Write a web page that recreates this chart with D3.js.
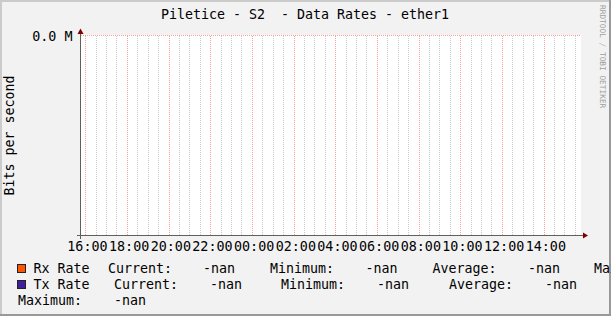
<!DOCTYPE html>
<html>
<head>
<meta charset="utf-8">
<script src="https://cdn.jsdelivr.net/npm/d3@7"></script>
<style>
    body { margin: 0; background: #f2f2f2; }
    svg { display: block; }
    text { font-family: "DejaVu Sans Mono", monospace; fill: #000; white-space: pre; }
</style>
</head>
<body>
<svg id="chart" width="611" height="316"></svg>
<script>
// chart values
let title = "Piletice - S2  - Data Rates - ether1";
let yTitle = "Bits per second";
let watermark = "RRDTOOL / TOBI OETIKER";
let timeStart = new Date(Date.UTC(2024, 0, 1, 15, 48));
let timeEnd = new Date(Date.UTC(2024, 0, 2, 15, 48));
let yDomain = [0, 1];
let yTickValues = [1];
let yTickLabels = ["0.0 M"];
let seriesNames = ["Rx Rate", "Tx Rate"];
let seriesColors = ["#ff5500", "#3f1fa0"];
let rxRate = [];   // no data: every point is nan
let txRate = [];
let statNames = ["Current:", "Minimum:", "Average:", "Maximum:"];
let rxStats = ["-nan", "-nan", "-nan", "-nan"];
let txStats = ["-nan", "-nan", "-nan", "-nan"];

// d3 v7 has no .attrs, add a small helper
d3.selection.prototype.attrs = function (obj) {
    for (let k in obj) this.attr(k, obj[k]);
    return this;
};

function make_scales(margin) {
    return {
        x: d3.scaleUtc()
            .domain([timeStart, timeEnd])
            .range([margin.left, margin.left + 500]),
        y: d3.scaleLinear()
            .domain(yDomain)
            .range([margin.top + 200, margin.top])
    };
}

function draw_frame(svg) {
    let w = 611, h = 316;
    svg.append("rect").attrs({ x: 0, y: 0, width: w, height: h, fill: "#f2f2f2" });
    // light shade top-left, dark shade bottom-right
    svg.append("path").attrs({ d: `M0,0H${w}V2H2V${h}H0Z`, fill: "#cbcbcb" });
    svg.append("path").attrs({ d: `M${w},0V${h}H0V${h - 2}H${w - 2}V0Z`, fill: "#999999" });
}

function draw_grid(svg, scales) {
    let x = scales.x, y = scales.y;
    let [top, bottom] = [y.range()[1], y.range()[0]];
    let majors = x.ticks(d3.utcHour.every(2));
    let minors = x.ticks(d3.utcMinute.every(30))
        .filter(t => t.getUTCMinutes() !== 0 || t.getUTCHours() % 2 !== 0);

    svg.append("rect").attrs({
        x: x.range()[0], y: top - 0.5, width: 500, height: bottom - top + 1, fill: "#fff"
    });

    svg.append("g").selectAll("line")
        .data(minors).enter()
        .append("line")
        .attrs({
            x1: d => Math.round(x(d)) + 0.5, x2: d => Math.round(x(d)) + 0.5,
            y1: top, y2: bottom,
            stroke: "#c8c8c8", "stroke-dasharray": "1,1", "shape-rendering": "crispEdges"
        });

    svg.append("g").selectAll("line")
        .data(majors).enter()
        .append("line")
        .attrs({
            x1: d => Math.round(x(d)) + 0.5, x2: d => Math.round(x(d)) + 0.5,
            y1: top, y2: bottom,
            stroke: "#f7a0a0", "stroke-dasharray": "1,1", "shape-rendering": "crispEdges"
        });

    svg.append("g").selectAll("line")
        .data(yTickValues).enter()
        .append("line")
        .attrs({
            x1: x.range()[0], x2: x.range()[1],
            y1: d => y(d), y2: d => y(d),
            stroke: "#f7a0a0", "stroke-dasharray": "1,1", "shape-rendering": "crispEdges"
        });

    // labels
    svg.append("g").selectAll("text")
        .data(majors).enter()
        .append("text")
        .attrs({ x: d => x(d) + 2.3, y: bottom + 15, "text-anchor": "middle" })
        .style("font-size", "13.4px")
        .text(d3.utcFormat("%H:%M"));

    svg.append("g").selectAll("text")
        .data(yTickValues).enter()
        .append("text")
        .attrs({ x: 72.5, y: d => y(d) + 5, "text-anchor": "end" })
        .style("font-size", "13.4px")
        .text((d, i) => yTickLabels[i]);
}

function draw_axes(svg, scales) {
    let x = scales.x, y = scales.y;
    let x0 = x.range()[0] - 0.5, x1 = x.range()[1];
    let top = y.range()[1], bottom = y.range()[0];
    svg.append("line").attrs({
        x1: x0 - 4, x2: x1 + 4, y1: bottom, y2: bottom,
        stroke: "#606060", "shape-rendering": "crispEdges"
    });
    svg.append("line").attrs({
        x1: x0, x2: x0, y1: bottom + 3, y2: top - 2,
        stroke: "#606060", "shape-rendering": "crispEdges"
    });
    svg.append("path").attrs({
        d: `M${x1 + 2},${bottom - 3}L${x1 + 7},${bottom}L${x1 + 2},${bottom + 3}Z`,
        fill: "#7f0000"
    });
    svg.append("path").attrs({
        d: `M${x0 - 3},${top - 1.5}L${x0},${top - 7}L${x0 + 3},${top - 1.5}Z`,
        fill: "#7f0000"
    });
}

function draw_series(svg, scales) {
    let line = d3.line()
        .defined(d => !isNaN(d.v))
        .x(d => scales.x(d.t))
        .y(d => scales.y(d.v));
    [rxRate, txRate].forEach((s, i) => {
        svg.append("path").attrs({
            d: line(s) || "", fill: "none", stroke: seriesColors[i]
        });
    });
}

function draw_texts(svg) {
    svg.append("text")
        .attrs({ x: 305, y: 19, "text-anchor": "middle" })
        .style("font-size", "13.3px")
        .text(title);

    svg.append("text")
        .attrs({ transform: "translate(13.5,135.5) rotate(-90)", "text-anchor": "middle" })
        .style("font-size", "13.3px")
        .text(yTitle);

    svg.append("text")
        .attrs({ transform: "translate(600,5) rotate(90)", "text-anchor": "start" })
        .style("font-size", "7.8px")
        .style("fill", "#a0a0a0")
        .text(watermark);
}

function draw_legend(svg) {
    // column positions per legend row (stat label x, value x)
    let rows = [
        { y: 272.5, box: 17, name: 33.5, cols: [[108, 203], [270, 365.5], [432.5, 528], [594, null]] },
        { y: 288.5, box: 17, name: 33.5, cols: [[114, 210], [281, 377], [449, 545]] }
    ];
    let wrapped = { y: 304.5, cols: [[18, 114]] };
    let stats = [rxStats, txStats];
    let fs = "13.3px";

    rows.forEach((r, i) => {
        let g = svg.append("g");
        g.append("rect").attrs({
            x: r.box + 0.5, y: r.y - 8.5, width: 8, height: 8,
            fill: seriesColors[i], stroke: "#222", "shape-rendering": "crispEdges"
        });
        g.append("text").attrs({ x: r.name, y: r.y }).style("font-size", fs).text(seriesNames[i]);
        r.cols.forEach((c, j) => {
            g.append("text").attrs({ x: c[0], y: r.y }).style("font-size", fs).text(statNames[j]);
            // the Rx maximum value runs off the right edge in the original
            if (c[1] !== null)
                g.append("text").attrs({ x: c[1], y: r.y }).style("font-size", fs).text(stats[i][j]);
        });
    });
    // Tx Maximum wraps to the next line
    wrapped.cols.forEach(c => {
        svg.append("text").attrs({ x: c[0], y: wrapped.y }).style("font-size", fs).text(statNames[3]);
        svg.append("text").attrs({ x: c[1], y: wrapped.y }).style("font-size", fs).text(txStats[3]);
    });
}

function visualize() {
    let margin = { top: 35.5, left: 81 };
    let svg = d3.select("#chart");
    let scales = make_scales(margin);
    draw_frame(svg);
    draw_grid(svg, scales);
    draw_series(svg, scales);
    draw_axes(svg, scales);
    draw_texts(svg);
    draw_legend(svg);
}

visualize();
</script>
</body>
</html>
